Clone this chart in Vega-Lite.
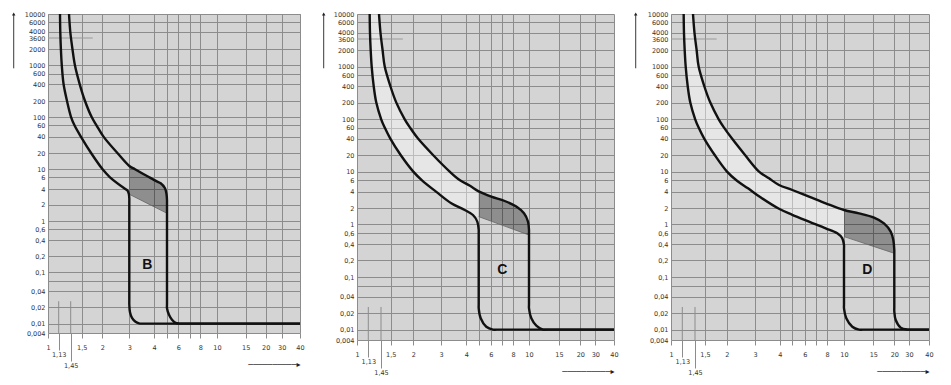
{
  "$schema": "https://vega.github.io/schema/vega-lite/v6.json",
  "padding": {"left": 11, "top": 11, "right": 0, "bottom": 0},
  "spacing": 57,
  "bounds": "flush",
  "resolve": {"scale": {"x": "independent", "y": "independent"}},
  "config": {
    "view": {"fill": "#d4d4d4", "stroke": null},
    "font": "DejaVu Sans",
    "axis": {
      "gridColor": "#8c8c8c", "gridWidth": 1, "tickColor": "#8c8c8c",
      "labelFont": "DejaVu Sans", "labelFontSize": 6.5, "labelColor": "#333333",
      "labelOverlap": false, "labelFlush": false, "labelBound": false, "domain": false,
      "titleFont": "DejaVu Sans", "titleFontSize": 8, "titleFontWeight": "normal", "titleColor": "#222222"
    }
  },
  "datasets": {
    "B": [
      {"k":"lo","i":0,"x":1.161,"y":10000},{"k":"lo","i":1,"x":1.168,"y":4000},{"k":"lo","i":2,"x":1.183,"y":2000},{"k":"lo","i":3,"x":1.205,"y":1000},{"k":"lo","i":4,"x":1.251,"y":400},{"k":"lo","i":5,"x":1.343,"y":200},{"k":"lo","i":6,"x":1.452,"y":100},{"k":"lo","i":7,"x":1.467,"y":60},{"k":"lo","i":8,"x":1.496,"y":40},{"k":"lo","i":9,"x":1.71,"y":20},{"k":"lo","i":10,"x":2.009,"y":10},{"k":"lo","i":11,"x":2.245,"y":6},{"k":"lo","i":12,"x":2.825,"y":4},{"k":"lo","i":13,"x":2.911,"y":3.77},{"k":"lo","i":14,"x":2.977,"y":3.24},{"k":"lo","i":15,"x":3,"y":2.64},{"k":"lo","i":16,"x":3,"y":2.2},{"k":"lo","i":17,"x":3,"y":0.027},{"k":"lo","i":18,"x":3,"y":0.0228},{"k":"lo","i":19,"x":3.024,"y":0.0162},{"k":"lo","i":20,"x":3.096,"y":0.0128},{"k":"lo","i":21,"x":3.225,"y":0.0108},{"k":"lo","i":22,"x":3.359,"y":0.0101},{"k":"lo","i":23,"x":3.49,"y":0.01},{"k":"lo","i":24,"x":3.7,"y":0.01},{"k":"lo","i":25,"x":40,"y":0.01},
      {"k":"hi","i":0,"x":1.4,"y":10000},{"k":"hi","i":1,"x":1.438,"y":4000},{"k":"hi","i":2,"x":1.458,"y":2000},{"k":"hi","i":3,"x":1.469,"y":1000},{"k":"hi","i":4,"x":1.491,"y":400},{"k":"hi","i":5,"x":1.571,"y":200},{"k":"hi","i":6,"x":1.727,"y":100},{"k":"hi","i":7,"x":1.844,"y":60},{"k":"hi","i":8,"x":2.036,"y":40},{"k":"hi","i":9,"x":2.509,"y":20},{"k":"hi","i":10,"x":3,"y":11.5},{"k":"hi","i":11,"x":3.206,"y":10},{"k":"hi","i":12,"x":3.787,"y":6},{"k":"hi","i":13,"x":4.19,"y":5.22},{"k":"hi","i":14,"x":4.487,"y":4.87},{"k":"hi","i":15,"x":4.831,"y":4.1},{"k":"hi","i":16,"x":4.958,"y":3.17},{"k":"hi","i":17,"x":5,"y":2.42},{"k":"hi","i":18,"x":5,"y":2.1},{"k":"hi","i":19,"x":5,"y":0.023},{"k":"hi","i":20,"x":5,"y":0.0192},{"k":"hi","i":21,"x":5.164,"y":0.01455},{"k":"hi","i":22,"x":5.42,"y":0.01175},{"k":"hi","i":23,"x":5.735,"y":0.0103},{"k":"hi","i":24,"x":6.056,"y":0.01},{"k":"hi","i":25,"x":6.4,"y":0.01},{"k":"hi","i":26,"x":40,"y":0.01},
      {"k":"dark","x":3,"y":11.5,"y2":3.165},{"k":"dark","x":3.206,"y":10,"y2":2.77},{"k":"dark","x":3.787,"y":6,"y2":2.01},{"k":"dark","x":4.19,"y":5.22,"y2":1.725},{"k":"dark","x":4.487,"y":4.87,"y2":1.584},{"k":"dark","x":4.831,"y":4.1,"y2":1.444},{"k":"dark","x":4.958,"y":3.17,"y2":1.402},{"k":"dark","x":5,"y":2.42,"y2":1.385},
      {"k":"diag","x":3,"y":3.165},{"k":"diag","x":5,"y":1.385},
      {"k":"r3600","x":1,"x2":1.75,"y":3600},
      {"k":"v","x":1.13,"y":0.004,"y2":0.026},{"k":"v","x":1.45,"y":0.004,"y2":0.026},
      {"k":"arrow","x":0.6759,"y":10000,"y2":831},
      {"k":"lbl","x":3.7,"y":0.135,"t":"B"}
    ],
    "C": [
      {"k":"lo","i":0,"x":1.161,"y":10000},{"k":"lo","i":1,"x":1.168,"y":4000},{"k":"lo","i":2,"x":1.184,"y":2000},{"k":"lo","i":3,"x":1.208,"y":1000},{"k":"lo","i":4,"x":1.256,"y":400},{"k":"lo","i":5,"x":1.322,"y":200},{"k":"lo","i":6,"x":1.451,"y":100},{"k":"lo","i":7,"x":1.469,"y":60},{"k":"lo","i":8,"x":1.498,"y":40},{"k":"lo","i":9,"x":1.703,"y":20},{"k":"lo","i":10,"x":2.0,"y":10},{"k":"lo","i":11,"x":2.272,"y":6},{"k":"lo","i":12,"x":2.788,"y":4},{"k":"lo","i":13,"x":3.372,"y":2.462},{"k":"lo","i":14,"x":3.928,"y":1.857},{"k":"lo","i":15,"x":4.51,"y":1.496},{"k":"lo","i":16,"x":4.876,"y":1.124},{"k":"lo","i":17,"x":5,"y":0.716},{"k":"lo","i":18,"x":5,"y":0.6},{"k":"lo","i":19,"x":5,"y":0.029},{"k":"lo","i":20,"x":5,"y":0.0246},{"k":"lo","i":21,"x":5.155,"y":0.0162},{"k":"lo","i":22,"x":5.611,"y":0.0113},{"k":"lo","i":23,"x":6.186,"y":0.01},{"k":"lo","i":24,"x":6.5,"y":0.01},{"k":"lo","i":25,"x":40,"y":0.01},
      {"k":"hi","i":0,"x":1.394,"y":10000},{"k":"hi","i":1,"x":1.436,"y":4000},{"k":"hi","i":2,"x":1.458,"y":2000},{"k":"hi","i":3,"x":1.469,"y":1000},{"k":"hi","i":4,"x":1.498,"y":400},{"k":"hi","i":5,"x":1.611,"y":200},{"k":"hi","i":6,"x":1.793,"y":100},{"k":"hi","i":7,"x":1.918,"y":60},{"k":"hi","i":8,"x":2.143,"y":40},{"k":"hi","i":9,"x":2.669,"y":20},{"k":"hi","i":10,"x":3.312,"y":10},{"k":"hi","i":11,"x":3.724,"y":6},{"k":"hi","i":12,"x":4.275,"y":4.925},{"k":"hi","i":13,"x":5,"y":4.04},{"k":"hi","i":14,"x":6.048,"y":3.25},{"k":"hi","i":15,"x":7.213,"y":2.707},{"k":"hi","i":16,"x":8.376,"y":2.146},{"k":"hi","i":17,"x":9.326,"y":1.61},{"k":"hi","i":18,"x":9.861,"y":1.124},{"k":"hi","i":19,"x":10,"y":0.716},{"k":"hi","i":20,"x":10,"y":0.6},{"k":"hi","i":21,"x":10,"y":0.029},{"k":"hi","i":22,"x":10,"y":0.0246},{"k":"hi","i":23,"x":10.32,"y":0.0162},{"k":"hi","i":24,"x":11.04,"y":0.01185},{"k":"hi","i":25,"x":12.08,"y":0.01},{"k":"hi","i":26,"x":12.8,"y":0.01},{"k":"hi","i":27,"x":40,"y":0.01},
      {"k":"band","y":10000,"x":1.161,"x2":1.394},{"k":"band","y":4000,"x":1.168,"x2":1.436},{"k":"band","y":2000,"x":1.184,"x2":1.458},{"k":"band","y":1000,"x":1.208,"x2":1.469},{"k":"band","y":400,"x":1.256,"x2":1.498},{"k":"band","y":200,"x":1.322,"x2":1.611},{"k":"band","y":100,"x":1.451,"x2":1.793},{"k":"band","y":60,"x":1.469,"x2":1.918},{"k":"band","y":40,"x":1.498,"x2":2.143},{"k":"band","y":20,"x":1.703,"x2":2.669},{"k":"band","y":10,"x":2.0,"x2":3.312},{"k":"band","y":6,"x":2.272,"x2":3.724},{"k":"band","y":4.925,"x":2.509,"x2":4.275},{"k":"band","y":4.04,"x":2.772,"x2":5},{"k":"band","y":2.462,"x":3.372,"x2":5},{"k":"band","y":1.857,"x":3.928,"x2":5},{"k":"band","y":1.496,"x":4.51,"x2":5},{"k":"band","y":1.394,"x":4.594,"x2":5},
      {"k":"dark","x":5,"y":4.04,"y2":1.394},{"k":"dark","x":6.048,"y":3.25,"y2":1.143},{"k":"dark","x":7.213,"y":2.707,"y2":0.8997},{"k":"dark","x":8.376,"y":2.146,"y2":0.699},{"k":"dark","x":9.326,"y":1.61,"y2":0.5956},{"k":"dark","x":9.861,"y":1.124,"y2":0.5646},{"k":"dark","x":10,"y":0.716,"y2":0.558},
      {"k":"diag","x":5,"y":1.394},{"k":"diag","x":10,"y":0.558},
      {"k":"r3600","x":1,"x2":1.75,"y":3600},
      {"k":"v","x":1.13,"y":0.004,"y2":0.026},{"k":"v","x":1.45,"y":0.004,"y2":0.026},
      {"k":"arrow","x":0.6975,"y":10000,"y2":903},
      {"k":"lbl","x":7.0,"y":0.135,"t":"C"}
    ],
    "D": [
      {"k":"lo","i":0,"x":1.161,"y":10000},{"k":"lo","i":1,"x":1.168,"y":4000},{"k":"lo","i":2,"x":1.184,"y":2000},{"k":"lo","i":3,"x":1.208,"y":1000},{"k":"lo","i":4,"x":1.256,"y":400},{"k":"lo","i":5,"x":1.322,"y":200},{"k":"lo","i":6,"x":1.451,"y":100},{"k":"lo","i":7,"x":1.468,"y":60},{"k":"lo","i":8,"x":1.496,"y":40},{"k":"lo","i":9,"x":1.706,"y":20},{"k":"lo","i":10,"x":2.009,"y":10},{"k":"lo","i":11,"x":2.318,"y":5.894},{"k":"lo","i":12,"x":2.714,"y":4.503},{"k":"lo","i":13,"x":3.199,"y":3.158},{"k":"lo","i":14,"x":3.968,"y":1.957},{"k":"lo","i":15,"x":5,"y":1.51},{"k":"lo","i":16,"x":6.353,"y":1.124},{"k":"lo","i":17,"x":7.872,"y":0.7906},{"k":"lo","i":18,"x":9.158,"y":0.5936},{"k":"lo","i":19,"x":9.779,"y":0.4961},{"k":"lo","i":20,"x":10,"y":0.388},{"k":"lo","i":21,"x":10,"y":0.33},{"k":"lo","i":22,"x":10,"y":0.029},{"k":"lo","i":23,"x":10,"y":0.0246},{"k":"lo","i":24,"x":10.323,"y":0.0162},{"k":"lo","i":25,"x":11.22,"y":0.0113},{"k":"lo","i":26,"x":12.31,"y":0.01},{"k":"lo","i":27,"x":13,"y":0.01},{"k":"lo","i":28,"x":40,"y":0.01},
      {"k":"hi","i":0,"x":1.394,"y":10000},{"k":"hi","i":1,"x":1.436,"y":4000},{"k":"hi","i":2,"x":1.458,"y":2000},{"k":"hi","i":3,"x":1.468,"y":1000},{"k":"hi","i":4,"x":1.496,"y":400},{"k":"hi","i":5,"x":1.609,"y":200},{"k":"hi","i":6,"x":1.799,"y":100},{"k":"hi","i":7,"x":1.93,"y":60},{"k":"hi","i":8,"x":2.158,"y":40},{"k":"hi","i":9,"x":2.6,"y":20},{"k":"hi","i":10,"x":3.143,"y":10},{"k":"hi","i":11,"x":3.531,"y":6.75},{"k":"hi","i":12,"x":3.968,"y":5.069},{"k":"hi","i":13,"x":5,"y":4.237},{"k":"hi","i":14,"x":6.353,"y":3.25},{"k":"hi","i":15,"x":7.872,"y":2.462},{"k":"hi","i":16,"x":10,"y":1.857},{"k":"hi","i":17,"x":12.31,"y":1.61},{"k":"hi","i":18,"x":15.14,"y":1.339},{"k":"hi","i":19,"x":17.37,"y":1.044},{"k":"hi","i":20,"x":19.04,"y":0.6514},{"k":"hi","i":21,"x":19.73,"y":0.4669},{"k":"hi","i":22,"x":20,"y":0.3124},{"k":"hi","i":23,"x":20,"y":0.27},{"k":"hi","i":24,"x":20,"y":0.026},{"k":"hi","i":25,"x":20,"y":0.02173},{"k":"hi","i":26,"x":20.79,"y":0.01505},{"k":"hi","i":27,"x":23.86,"y":0.01088},{"k":"hi","i":28,"x":28.62,"y":0.01},{"k":"hi","i":29,"x":29.5,"y":0.01},{"k":"hi","i":30,"x":40,"y":0.01},
      {"k":"band","y":10000,"x":1.161,"x2":1.394},{"k":"band","y":4000,"x":1.168,"x2":1.436},{"k":"band","y":2000,"x":1.184,"x2":1.458},{"k":"band","y":1000,"x":1.208,"x2":1.468},{"k":"band","y":400,"x":1.256,"x2":1.496},{"k":"band","y":200,"x":1.322,"x2":1.609},{"k":"band","y":100,"x":1.451,"x2":1.799},{"k":"band","y":60,"x":1.468,"x2":1.93},{"k":"band","y":40,"x":1.496,"x2":2.158},{"k":"band","y":20,"x":1.706,"x2":2.6},{"k":"band","y":10,"x":2.009,"x2":3.143},{"k":"band","y":6.75,"x":2.23,"x2":3.531},{"k":"band","y":5.894,"x":2.318,"x2":3.687},{"k":"band","y":5.069,"x":2.533,"x2":3.968},{"k":"band","y":4.503,"x":2.714,"x2":4.617},{"k":"band","y":4.237,"x":2.808,"x2":5},{"k":"band","y":3.158,"x":3.199,"x2":6.55},{"k":"band","y":2.462,"x":3.581,"x2":7.872},{"k":"band","y":1.957,"x":3.968,"x2":9.7},{"k":"band","y":1.857,"x":4.145,"x2":10},{"k":"band","y":1.51,"x":5,"x2":10},{"k":"band","y":1.124,"x":6.353,"x2":10},{"k":"band","y":0.7906,"x":7.872,"x2":10},{"k":"band","y":0.5936,"x":9.158,"x2":10},{"k":"band","y":0.527,"x":9.56,"x2":10},
      {"k":"dark","x":10,"y":1.857,"y2":0.527},{"k":"dark","x":12.31,"y":1.61,"y2":0.4407},{"k":"dark","x":15.14,"y":1.339,"y2":0.3613},{"k":"dark","x":17.37,"y":1.044,"y2":0.3138},{"k":"dark","x":19.04,"y":0.6514,"y2":0.285},{"k":"dark","x":19.73,"y":0.4669,"y2":0.2747},{"k":"dark","x":20,"y":0.3124,"y2":0.271},
      {"k":"diag","x":10,"y":0.527},{"k":"diag","x":20,"y":0.271},
      {"k":"r3600","x":1,"x2":1.75,"y":3600},
      {"k":"v","x":1.13,"y":0.004,"y2":0.026},{"k":"v","x":1.45,"y":0.004,"y2":0.026},
      {"k":"arrow","x":0.6827,"y":10000,"y2":903},
      {"k":"lbl","x":13.8,"y":0.135,"t":"D"}
    ]
  },
  "hconcat": [
    {
      "width": 252, "height": 319,
      "data": {"name": "B"},
      "encoding": {
        "x": {"field": "x", "type": "quantitative",
          "scale": {"type": "log", "nice": false, "domain": [1,1.13,1.45,1.5,2,3,4,5,6,7,8,10,15,20,30,40], "range": [0,10.7,22.7,33.7,54.3,81.3,106,119,130.3,142,152.3,169,197.7,217.7,233.7,252]},
          "axis": {"values": [1,1.13,1.45,1.5,2,3,4,5,6,7,8,10,15,20,30,40], "grid": true,
            "labelExpr": "datum.value == 5 || datum.value == 7 ? '' : replace(toString(datum.value), '.', ',')",
            "gridOpacity": {"condition": {"test": "datum.value == 1.13 || datum.value == 1.45", "value": 0}, "value": 1},
            "tickSize": {"expr": "datum.value == 1.13 ? 17 : datum.value == 1.45 ? 28 : 5"},
            "labelPadding": {"expr": "datum.value == 1.13 || datum.value == 1.45 ? 1 : 6"},
            "title": "──────────▸", "titleAnchor": "end", "titlePadding": -8}},
        "y": {"field": "y", "type": "quantitative",
          "scale": {"type": "log", "nice": false, "domain": [0.004,0.01,0.02,0.04,0.06,0.1,0.2,0.4,0.6,1,2,4,6,10,20,40,60,100,200,400,600,1000,2000,3600,4000,6000,10000], "range": [319.3,309.6,293.3,277.3,267,258.3,242,226.3,215,207,190.6,175,163.3,155.3,139,122.6,111.3,103.3,87,70.3,59.6,51.3,35.3,24,18,8.3,0]},
          "axis": {"values": [0.004,0.01,0.02,0.04,0.06,0.1,0.2,0.4,0.6,1,2,4,6,10,20,40,60,100,200,400,600,1000,2000,3600,4000,6000,10000], "grid": true, "ticks": false, "labelPadding": 3,
            "labelExpr": "datum.value == 0.06 ? '' : replace(toString(datum.value), '.', ',')",
            "labelOffset": {"expr": "datum.value == 4000 ? -0.7 : datum.value == 3600 ? 0.7 : 0"},
            "gridOpacity": {"condition": {"test": "datum.value == 3600", "value": 0}, "value": 1},
            "title": null}}
      },
      "layer": [
        {"transform": [{"filter": "datum.k == 'dark'"}], "mark": {"type": "area", "orient": "vertical", "color": "#000000", "opacity": 0.33}, "encoding": {"y2": {"field": "y2"}}},
        {"transform": [{"filter": "datum.k == 'diag'"}], "mark": {"type": "line", "color": "#666666", "strokeWidth": 0.8}, "encoding": {}},
        {"transform": [{"filter": "datum.k == 'r3600'"}], "mark": {"type": "rule", "color": "#9a9a9a"}, "encoding": {"x2": {"field": "x2"}}},
        {"transform": [{"filter": "datum.k == 'v'"}], "mark": {"type": "rule", "color": "#8c8c8c"}, "encoding": {"y2": {"field": "y2"}}},
        {"transform": [{"filter": "datum.k == 'arrow'"}], "mark": {"type": "rule", "color": "#222222", "strokeWidth": 0.9}, "encoding": {"y2": {"field": "y2"}}},
        {"transform": [{"filter": "datum.k == 'arrow'"}], "mark": {"type": "point", "shape": "triangle-up", "filled": true, "size": 12, "color": "#222222", "opacity": 1}},
        {"transform": [{"filter": "datum.k == 'lo' || datum.k == 'hi'"}], "mark": {"type": "line", "color": "#111111", "strokeWidth": 2.4, "strokeJoin": "round", "interpolate": "catmull-rom", "clip": true}, "encoding": {"detail": {"field": "k"}, "order": {"field": "i", "type": "quantitative"}}},
        {"transform": [{"filter": "datum.k == 'lbl'"}], "mark": {"type": "text", "fontSize": 14, "fontWeight": "bold", "font": "Liberation Sans", "color": "#111111"}, "encoding": {"text": {"field": "t"}}}
      ]
    },
    {
      "width": 257, "height": 326,
      "data": {"name": "C"},
      "encoding": {
        "x": {"field": "x", "type": "quantitative",
          "scale": {"type": "log", "nice": false, "domain": [1,1.13,1.45,1.5,2,3,4,5,6,7,8,10,15,20,30,40], "range": [0,11.3,24,33.7,56.3,84,109.3,121.7,133.7,145.3,156,172,202,223.3,238.3,257]},
          "axis": {"values": [1,1.13,1.45,1.5,2,3,4,5,6,7,8,10,15,20,30,40], "grid": true,
            "labelExpr": "datum.value == 5 || datum.value == 7 ? '' : replace(toString(datum.value), '.', ',')",
            "gridOpacity": {"condition": {"test": "datum.value == 1.13 || datum.value == 1.45", "value": 0}, "value": 1},
            "tickSize": {"expr": "datum.value == 1.13 ? 17 : datum.value == 1.45 ? 28 : 5"},
            "labelPadding": {"expr": "datum.value == 1.13 || datum.value == 1.45 ? 1 : 6"},
            "title": "──────────▸", "titleAnchor": "end", "titlePadding": -8}},
        "y": {"field": "y", "type": "quantitative",
          "scale": {"type": "log", "nice": false, "domain": [0.004,0.01,0.02,0.04,0.06,0.1,0.2,0.4,0.6,1,2,4,6,10,20,40,60,100,200,400,600,1000,2000,3600,4000,6000,10000], "range": [326,315.6,299.3,282.6,271.6,263,246.3,230.3,219,210.3,194.3,177.6,166.3,157.6,141,124.6,113.6,105.3,88.6,72,61,52.6,36,25,19,8.3,0]},
          "axis": {"values": [0.004,0.01,0.02,0.04,0.06,0.1,0.2,0.4,0.6,1,2,4,6,10,20,40,60,100,200,400,600,1000,2000,3600,4000,6000,10000], "grid": true, "ticks": false, "labelPadding": 3,
            "labelExpr": "datum.value == 0.06 ? '' : replace(toString(datum.value), '.', ',')",
            "labelOffset": {"expr": "datum.value == 4000 ? -0.7 : datum.value == 3600 ? 0.7 : 0"},
            "gridOpacity": {"condition": {"test": "datum.value == 3600", "value": 0}, "value": 1},
            "title": null}}
      },
      "layer": [
        {"transform": [{"filter": "datum.k == 'band'"}], "mark": {"type": "area", "orient": "horizontal", "color": "#ffffff", "opacity": 0.42}, "encoding": {"x2": {"field": "x2"}}},
        {"transform": [{"filter": "datum.k == 'dark'"}], "mark": {"type": "area", "orient": "vertical", "color": "#000000", "opacity": 0.33}, "encoding": {"y2": {"field": "y2"}}},
        {"transform": [{"filter": "datum.k == 'diag'"}], "mark": {"type": "line", "color": "#666666", "strokeWidth": 0.8}, "encoding": {}},
        {"transform": [{"filter": "datum.k == 'r3600'"}], "mark": {"type": "rule", "color": "#9a9a9a"}, "encoding": {"x2": {"field": "x2"}}},
        {"transform": [{"filter": "datum.k == 'v'"}], "mark": {"type": "rule", "color": "#8c8c8c"}, "encoding": {"y2": {"field": "y2"}}},
        {"transform": [{"filter": "datum.k == 'arrow'"}], "mark": {"type": "rule", "color": "#222222", "strokeWidth": 0.9}, "encoding": {"y2": {"field": "y2"}}},
        {"transform": [{"filter": "datum.k == 'arrow'"}], "mark": {"type": "point", "shape": "triangle-up", "filled": true, "size": 12, "color": "#222222", "opacity": 1}},
        {"transform": [{"filter": "datum.k == 'lo' || datum.k == 'hi'"}], "mark": {"type": "line", "color": "#111111", "strokeWidth": 2.4, "strokeJoin": "round", "interpolate": "catmull-rom", "clip": true}, "encoding": {"detail": {"field": "k"}, "order": {"field": "i", "type": "quantitative"}}},
        {"transform": [{"filter": "datum.k == 'lbl'"}], "mark": {"type": "text", "fontSize": 14, "fontWeight": "bold", "font": "Liberation Sans", "color": "#111111"}, "encoding": {"text": {"field": "t"}}}
      ]
    },
    {
      "width": 258, "height": 326,
      "data": {"name": "D"},
      "encoding": {
        "x": {"field": "x", "type": "quantitative",
          "scale": {"type": "log", "nice": false, "domain": [1,1.13,1.45,1.5,2,3,4,5,6,7,8,10,15,20,30,40], "range": [0,11.3,24,34,55.7,84,108.7,121.3,133.7,145.3,156,173,202.3,223.3,238,258]},
          "axis": {"values": [1,1.13,1.45,1.5,2,3,4,5,6,7,8,10,15,20,30,40], "grid": true,
            "labelExpr": "datum.value == 5 || datum.value == 7 ? '' : replace(toString(datum.value), '.', ',')",
            "gridOpacity": {"condition": {"test": "datum.value == 1.13 || datum.value == 1.45", "value": 0}, "value": 1},
            "tickSize": {"expr": "datum.value == 1.13 ? 17 : datum.value == 1.45 ? 28 : 5"},
            "labelPadding": {"expr": "datum.value == 1.13 || datum.value == 1.45 ? 1 : 6"},
            "title": "──────────▸", "titleAnchor": "end", "titlePadding": -8}},
        "y": {"field": "y", "type": "quantitative",
          "scale": {"type": "log", "nice": false, "domain": [0.004,0.01,0.02,0.04,0.06,0.1,0.2,0.4,0.6,1,2,4,6,10,20,40,60,100,200,400,600,1000,2000,3600,4000,6000,10000], "range": [326,315.6,299.3,282.6,271.6,263,246.3,230.3,219,210.3,194.3,177.6,166.3,157.6,141,124.6,113.6,105.3,88.6,72,61,52.6,36,25,19,8.3,0]},
          "axis": {"values": [0.004,0.01,0.02,0.04,0.06,0.1,0.2,0.4,0.6,1,2,4,6,10,20,40,60,100,200,400,600,1000,2000,3600,4000,6000,10000], "grid": true, "ticks": false, "labelPadding": 3,
            "labelExpr": "datum.value == 0.06 ? '' : replace(toString(datum.value), '.', ',')",
            "labelOffset": {"expr": "datum.value == 4000 ? -0.7 : datum.value == 3600 ? 0.7 : 0"},
            "gridOpacity": {"condition": {"test": "datum.value == 3600", "value": 0}, "value": 1},
            "title": null}}
      },
      "layer": [
        {"transform": [{"filter": "datum.k == 'band'"}], "mark": {"type": "area", "orient": "horizontal", "color": "#ffffff", "opacity": 0.42}, "encoding": {"x2": {"field": "x2"}}},
        {"transform": [{"filter": "datum.k == 'dark'"}], "mark": {"type": "area", "orient": "vertical", "color": "#000000", "opacity": 0.33}, "encoding": {"y2": {"field": "y2"}}},
        {"transform": [{"filter": "datum.k == 'diag'"}], "mark": {"type": "line", "color": "#666666", "strokeWidth": 0.8}, "encoding": {}},
        {"transform": [{"filter": "datum.k == 'r3600'"}], "mark": {"type": "rule", "color": "#9a9a9a"}, "encoding": {"x2": {"field": "x2"}}},
        {"transform": [{"filter": "datum.k == 'v'"}], "mark": {"type": "rule", "color": "#8c8c8c"}, "encoding": {"y2": {"field": "y2"}}},
        {"transform": [{"filter": "datum.k == 'arrow'"}], "mark": {"type": "rule", "color": "#222222", "strokeWidth": 0.9}, "encoding": {"y2": {"field": "y2"}}},
        {"transform": [{"filter": "datum.k == 'arrow'"}], "mark": {"type": "point", "shape": "triangle-up", "filled": true, "size": 12, "color": "#222222", "opacity": 1}},
        {"transform": [{"filter": "datum.k == 'lo' || datum.k == 'hi'"}], "mark": {"type": "line", "color": "#111111", "strokeWidth": 2.4, "strokeJoin": "round", "interpolate": "catmull-rom", "clip": true}, "encoding": {"detail": {"field": "k"}, "order": {"field": "i", "type": "quantitative"}}},
        {"transform": [{"filter": "datum.k == 'lbl'"}], "mark": {"type": "text", "fontSize": 14, "fontWeight": "bold", "font": "Liberation Sans", "color": "#111111"}, "encoding": {"text": {"field": "t"}}}
      ]
    }
  ]
}
